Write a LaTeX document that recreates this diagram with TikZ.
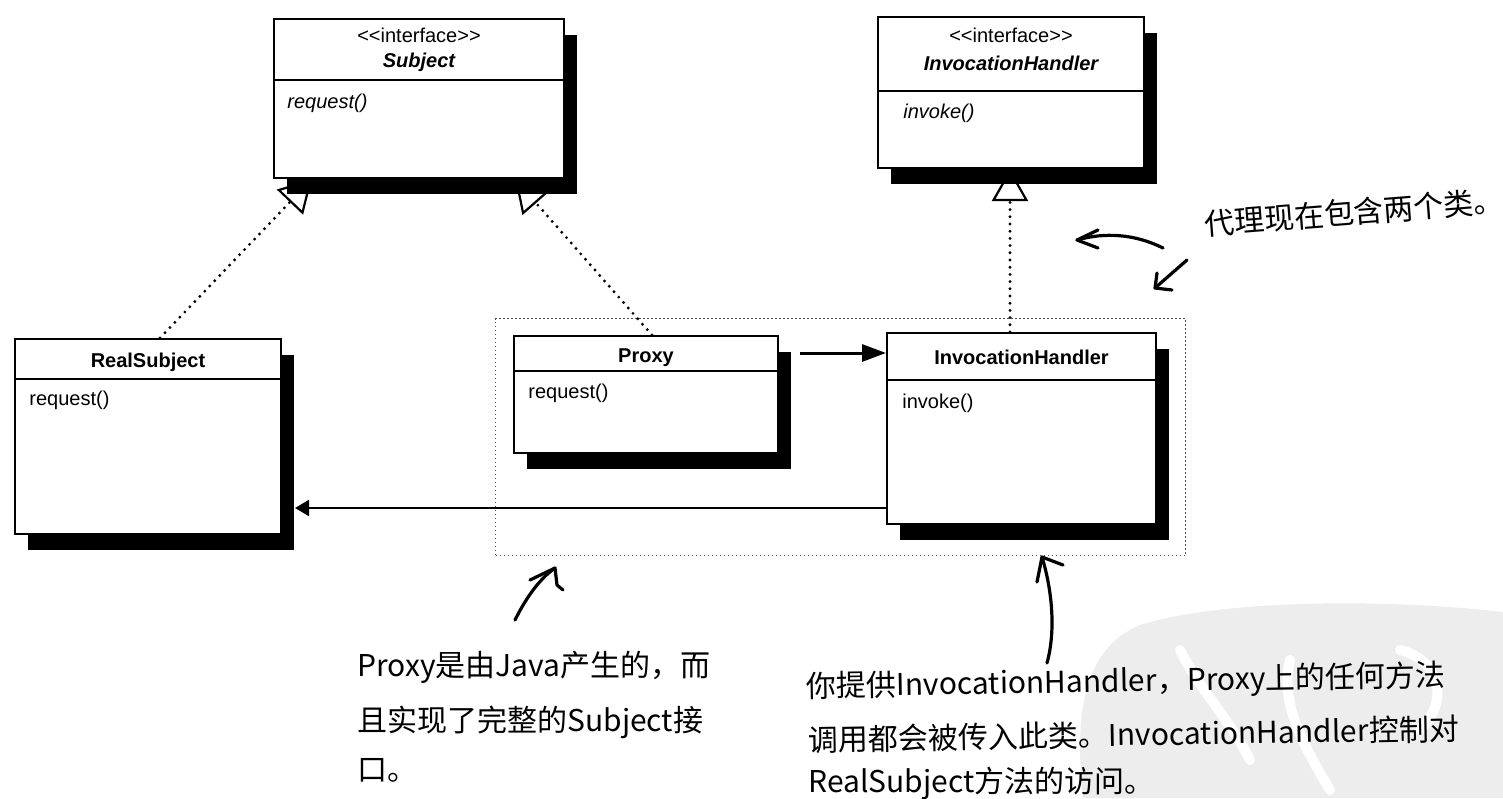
\documentclass[tikz,border=0pt]{standalone}
\usepackage{fontspec}
\setmainfont{Liberation Sans}
\newfontfamily\handfont{Noto Sans CJK SC}
\usetikzlibrary{arrows.meta,shadows,calc}
\pgfdeclarelayer{wm}
\pgfdeclarelayer{bg}
\pgfsetlayers{wm,bg,main}
\newcommand{\stereotxt}{<\kern0pt<interface>\kern0pt>}
\begin{document}
\begin{tikzpicture}[x=0.5pt,y=-0.5pt,
  umlbox/.style={draw=black, line width=1pt, fill=white, anchor=north west, inner sep=0pt,
    drop shadow={shadow xshift=6.5pt, shadow yshift=-8pt, fill=black, opacity=1}},
  divider/.style={line width=0.7pt},
  boxtext/.style={inner sep=0pt, font=\fontsize{10pt}{12pt}\selectfont},
  stereo/.style={boxtext},
  ititle/.style={boxtext, font=\fontsize{10pt}{12pt}\selectfont\bfseries\itshape},
  ctitle/.style={boxtext, font=\fontsize{10pt}{12pt}\selectfont\bfseries},
  imethod/.style={boxtext, anchor=west, font=\fontsize{10pt}{12pt}\selectfont\itshape},
  cmethod/.style={boxtext, anchor=west},
  groupbox/.style={draw=black!70, line width=0.6pt, dash pattern=on 0.6pt off 1.4pt, anchor=north west, inner sep=0pt},
  realize/.style={line width=1.6pt, dash pattern=on 0pt off 3.6pt, line cap=round,
    -{Triangle[open, length=16pt, width=18pt, line width=1.1pt]}},
  assoc/.style={line width=1.5pt, -{Triangle[length=12pt, width=8.5pt]}},
  assoctwo/.style={line width=1pt, -{Triangle[length=7pt, width=8pt]}},
  handline/.style={line width=1.6pt, line cap=round, line join=round},
  handtext/.style={inner sep=0pt, anchor=west, font=\handfont\fontsize{15pt}{17pt}\selectfont}
]
\useasboundingbox (0,0) rectangle (1503,798);

% watermark
\begin{pgfonlayer}{wm}
\fill[black!7] (1083,798) .. controls (1075,720) and (1080,650) .. (1140,625)
  .. controls (1220,600) and (1380,598) .. (1503,612) -- (1503,798) -- cycle;
\draw[white, line width=5pt, line cap=round] (1180,650) .. controls (1200,690) and (1230,720) .. (1250,760);
\draw[white, line width=5pt, line cap=round] (1290,660) .. controls (1280,700) and (1300,740) .. (1330,790);
\draw[white, line width=5pt, line cap=round] (1400,650) .. controls (1440,660) and (1450,700) .. (1420,730);
\end{pgfonlayer}

% class boxes
\node[umlbox, minimum width=145pt, minimum height=79.5pt] (sub) at (273,18) {};
\node[umlbox, minimum width=133pt, minimum height=75.5pt] (ihi) at (877,16) {};
\node[umlbox, minimum width=133pt, minimum height=97.5pt] (rs) at (14,338) {};
\node[umlbox, minimum width=132pt, minimum height=58.5pt] (px) at (513,335) {};
\node[umlbox, minimum width=134.5pt, minimum height=95.5pt] (ihc) at (886,332) {};

% dividers
\draw[divider] ($(sub.north west)+(0,62)$) -- ($(sub.north east)+(0,62)$);
\draw[divider] ($(ihi.north west)+(0,75)$) -- ($(ihi.north east)+(0,75)$);
\draw[divider] ($(rs.north west)+(0,41)$) -- ($(rs.north east)+(0,41)$);
\draw[divider] ($(px.north west)+(0,36)$) -- ($(px.north east)+(0,36)$);
\draw[divider] ($(ihc.north west)+(0,48)$) -- ($(ihc.north east)+(0,48)$);

% texts in boxes
\node[stereo] (subS) at ($(sub.north)+(0,17)$) {\stereotxt};
\node[ititle] (subT) at ($(sub.north)+(0,44)$) {Subject};
\node[imethod] (subM) at ($(sub.north west)+(14,85)$) {request()};
\node[stereo] (ihiS) at ($(ihi.north)+(0,19)$) {\stereotxt};
\node[ititle] (ihiT) at ($(ihi.north)+(0,47)$) {InvocationHandler};
\node[imethod] (ihiM) at ($(ihi.north west)+(26,97)$) {invoke()};
\node[ctitle] (rsT) at ($(rs.north)+(0,24)$) {RealSubject};
\node[cmethod] (rsM) at ($(rs.north west)+(15,62)$) {request()};
\node[ctitle] (pxT) at ($(px.north)+(0,23)$) {Proxy};
\node[cmethod] (pxM) at ($(px.north west)+(15,58)$) {request()};
\node[ctitle] (ihcT) at ($(ihc.north)+(0,25)$) {InvocationHandler};
\node[cmethod] (ihcM) at ($(ihc.north west)+(16,71)$) {invoke()};

% connectors
\begin{pgfonlayer}{bg}
\node[groupbox, minimum width=345pt, minimum height=118.5pt] (grp) at (495,318) {};
\draw[realize] ($(rs.north west)+(146,0)$) -- ($(sub.south west)+(39,0)$);
\draw[realize] ($(px.north west)+(139,0)$) -- ($(sub.south west)+(242,0)$);
\draw[realize] ($(ihc.north west)+(124,0)$) -- ($(ihi.south west)+(133,0)$);
\draw[assoc] ($(px.north east)+(21,18)$) -- ($(ihc.north west)+(0,21)$);
\draw[assoctwo] ($(ihc.north west)+(0,176)$) -- ($(rs.north east)+(13,170)$);
\end{pgfonlayer}

% handwritten arrows
\coordinate (a1s) at (1163,248); \coordinate (a1t) at (1077,240);
\draw[handline] (a1s) .. controls (1135,234) and (1105,232) .. (a1t);
\draw[handline] ($(a1t)+(21,-10)$) -- (a1t) -- ($(a1t)+(21,8)$);
\coordinate (a2s) at (1187,260); \coordinate (a2t) at (1155,288);
\draw[handline] (a2s) -- (a2t);
\draw[handline] ($(a2t)+(2,-15)$) -- (a2t) -- ($(a2t)+(17,2)$);
\coordinate (a3s) at (515,620); \coordinate (a3t) at (555,568);
\draw[handline] (a3s) .. controls (525,600) and (538,580) .. (a3t);
\draw[handline] (530,580) -- (a3t) -- (557,585) -- (563,590);
\coordinate (a4s) at (1047,663); \coordinate (a4t) at (1042,557);
\draw[handline] (a4s) .. controls (1056,630) and (1052,590) .. (a4t);
\draw[handline] ($(a4t)+(-5,25)$) -- (a4t) -- ($(a4t)+(21,8)$);

% handwritten notes
\node[handtext, anchor=center, rotate=4.5] (n0) at (1354,212) {代理现在包含两个类。};
\node[handtext] (n1a) at (357,667) {Proxy是由Java产生的，而};
\node[handtext] (n1b) at (357,722) {且实现了完整的Subject接};
\node[handtext] (n1c) at (357,770) {口。};
\node[handtext, rotate=1] (n2a) at (806,688) {你提供InvocationHandler，Proxy上的任何方法};
\node[handtext, rotate=1] (n2b) at (808,740) {调用都会被传入此类。InvocationHandler控制对};
\node[handtext] (n2c) at (808,783) {RealSubject方法的访问。};
\end{tikzpicture}
\end{document}
